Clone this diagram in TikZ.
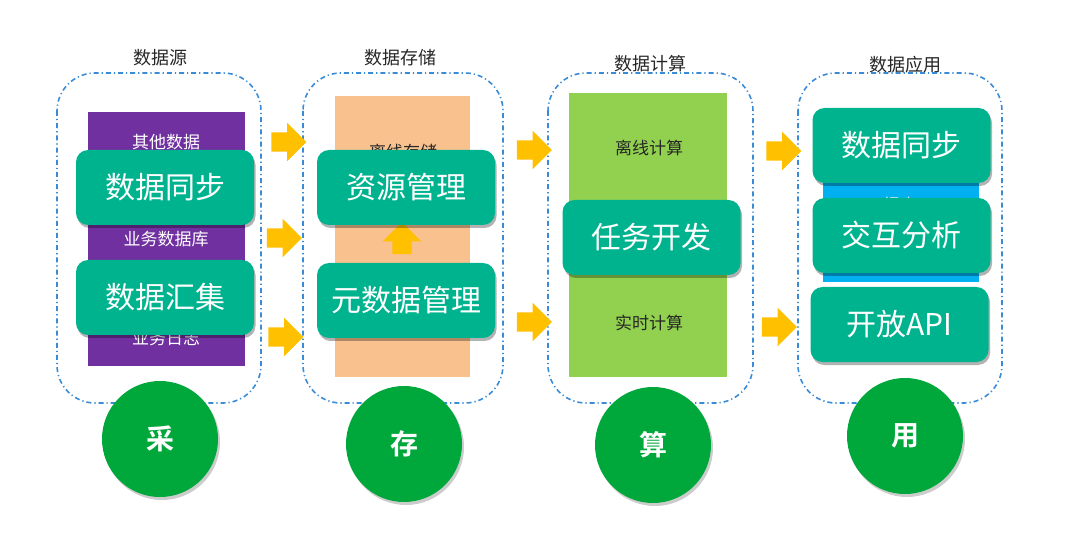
\documentclass[tikz,border=0pt]{standalone}
\usepackage{fontspec}
\setmainfont{Noto Sans CJK SC}[BoldFont={Noto Sans CJK SC Bold}]
\usepackage{tikz}
\usetikzlibrary{shapes.arrows, shadows}
\usepackage{xcolor}

\definecolor{dashblue}{HTML}{3A8BD6}
\definecolor{taskteal}{HTML}{00B38F}
\definecolor{srcpurple}{HTML}{7030A0}
\definecolor{storepeach}{HTML}{F8C18E}
\definecolor{calcgreen}{HTML}{92D050}
\definecolor{appblue}{HTML}{00B0F0}
\definecolor{arrowyellow}{HTML}{FFC000}
\definecolor{stagegreen}{HTML}{00A83C}

\tikzset{
  stagebox/.style={draw=dashblue, line width=1.6pt, rounded corners=38pt,
    dash pattern=on 5pt off 3pt on 1.2pt off 3pt},
  stagetitle/.style={text=black!85, font=\fontsize{18}{20}\selectfont},
  layertext/.style={font=\fontsize{17}{20}\selectfont},
  taskbox/.style={fill=taskteal, text=white, rounded corners=12pt,
    minimum width=178pt, minimum height=75pt, inner sep=0pt,
    font=\fontsize{30}{34}\selectfont,
    drop shadow={shadow xshift=1.5pt, shadow yshift=-3pt, opacity=0.3, fill=black}},
  flowarrow/.style={single arrow, fill=arrowyellow, inner xsep=0pt, inner ysep=9.5pt,
    minimum height=35pt, minimum width=0pt, single arrow head extend=9.5pt},
  stagecircle/.style={circle, fill=stagegreen, text=white, inner sep=0pt,
    minimum size=116pt, font=\bfseries\fontsize{28}{30}\selectfont,
    drop shadow={shadow xshift=2pt, shadow yshift=-3pt, opacity=0.2, fill=black}}
}

\begin{document}
\begin{tikzpicture}[x=1pt, y=-1pt]
\useasboundingbox (0,0) rectangle (1080,540);

% Source
\node[stagetitle] (srctitle) at (160, 58) {数据源};
\draw[stagebox] (57, 73) rectangle (261, 403);
\fill[srcpurple] (88, 112) rectangle (245, 366);
\node[layertext, white] (srcother) at (166, 142) {其他数据};
\node[layertext, white] (srcdb) at (166, 239) {业务数据库};
\node[layertext, white] (srclog) at (166, 338) {业务日志};
\node[taskbox] (sync) at (165, 187.5) {数据同步};
\node[taskbox] (gather) at (165, 297.5) {数据汇集};

% Storage
\node[stagetitle] (storetitle) at (400, 58) {数据存储};
\draw[stagebox] (303, 73) rectangle (503, 403);
\fill[storepeach] (335, 96) rectangle (470, 377);
\node[layertext, black!85] (storeoffline) at (403, 152) {离线存储};
\node[flowarrow, shape border rotate=90, inner xsep=9.5pt, inner ysep=0pt,
  minimum height=32pt] (metaup) at (402, 243) {};
\node[taskbox] (resource) at (406, 187.5) {资源管理};
\node[taskbox] (meta) at (406, 300.5) {元数据管理};

% Compute
\node[stagetitle] (calctitle) at (650, 64) {数据计算};
\draw[stagebox] (548, 73) rectangle (753, 403);
\fill[calcgreen] (569, 93) rectangle (727, 377);
\node[layertext, black!85] (calcoffline) at (649, 148) {离线计算};
\node[layertext, black!85] (calcrealtime) at (649, 323) {实时计算};
\node[taskbox] (taskdev) at (651.5, 237.5) {任务开发};

% Application
\node[stagetitle] (apptitle) at (905, 65) {数据应用};
\draw[stagebox] (798, 73) rectangle (1002, 403);
\fill[appblue] (823, 150) rectangle (979, 282);
\node[layertext, white] (appreport) at (900, 205) {报表};
\node[taskbox] (appsync) at (901.5, 145.5) {数据同步};
\node[taskbox] (analysis) at (901.5, 235.5) {交互分析};
\node[taskbox] (openapi) at (899.5, 324.5) {开放API};

% Flow arrows
\node[flowarrow] (flowa) at (284, 142) {};
\node[flowarrow] (flowb) at (279.5, 238) {};
\node[flowarrow] (flowc) at (281, 337) {};
\node[flowarrow] (flowd) at (529.5, 150) {};
\node[flowarrow] (flowe) at (529.5, 322) {};
\node[flowarrow] (flowf) at (779, 151) {};
\node[flowarrow] (flowg) at (774.5, 327) {};

% Stage circles
\node[stagecircle] (collect) at (160, 439) {采};
\node[stagecircle] (store) at (404, 444) {存};
\node[stagecircle] (compute) at (653, 445) {算};
\node[stagecircle] (use) at (905, 436) {用};
\end{tikzpicture}
\end{document}
